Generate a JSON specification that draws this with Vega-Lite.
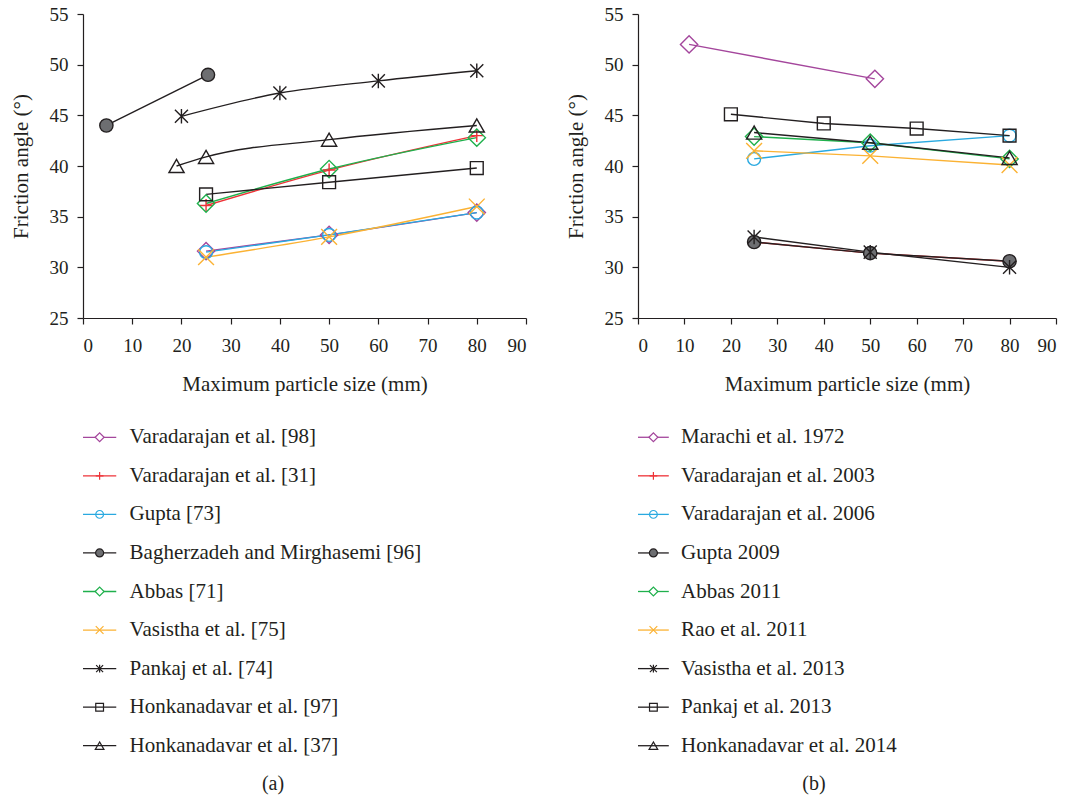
{
  "$schema": "https://vega.github.io/schema/vega-lite/v6.json",
  "background": "white",
  "padding": {"left": 10, "top": 5, "right": 5, "bottom": 5},
  "config": {
    "font": "Liberation Serif",
    "view": {"stroke": null},
    "axis": {
      "domainColor": "#231f20", "tickColor": "#231f20", "labelColor": "#231f20", "titleColor": "#231f20",
      "labelFont": "Liberation Serif", "titleFont": "Liberation Serif", "labelFontSize": 19, "titleFontSize": 21,
      "titleFontWeight": "normal", "grid": false, "tickSize": 6, "domainWidth": 1.2, "tickWidth": 1.2
    },
    "title": {"font": "Liberation Serif", "fontSize": 20, "fontWeight": "normal", "color": "#231f20"}
  },
  "datasets": {
    "a": [
      {"series": "Varadarajan et al. [98]", "x": 25, "y": 31.6},
      {"series": "Varadarajan et al. [98]", "x": 50, "y": 33.2},
      {"series": "Varadarajan et al. [98]", "x": 80, "y": 35.4},
      {"series": "Varadarajan et al. [31]", "x": 25, "y": 36.1},
      {"series": "Varadarajan et al. [31]", "x": 50, "y": 39.6},
      {"series": "Varadarajan et al. [31]", "x": 80, "y": 43.0},
      {"series": "Gupta [73]", "x": 25, "y": 31.5},
      {"series": "Gupta [73]", "x": 50, "y": 33.2},
      {"series": "Gupta [73]", "x": 80, "y": 35.4},
      {"series": "Bagherzadeh and Mirghasemi [96]", "x": 4.75, "y": 44.0},
      {"series": "Bagherzadeh and Mirghasemi [96]", "x": 25.4, "y": 49.0},
      {"series": "Abbas [71]", "x": 25, "y": 36.3},
      {"series": "Abbas [71]", "x": 50, "y": 39.7},
      {"series": "Abbas [71]", "x": 80, "y": 42.8},
      {"series": "Vasistha et al. [75]", "x": 25, "y": 31.0},
      {"series": "Vasistha et al. [75]", "x": 50, "y": 33.0},
      {"series": "Vasistha et al. [75]", "x": 80, "y": 36.0},
      {"series": "Pankaj et al. [74]", "x": 20, "y": 44.9},
      {"series": "Pankaj et al. [74]", "x": 40, "y": 47.2},
      {"series": "Pankaj et al. [74]", "x": 60, "y": 48.4},
      {"series": "Pankaj et al. [74]", "x": 80, "y": 49.4},
      {"series": "Honkanadavar et al. [97]", "x": 25, "y": 37.2},
      {"series": "Honkanadavar et al. [97]", "x": 50, "y": 38.4},
      {"series": "Honkanadavar et al. [97]", "x": 80, "y": 39.8},
      {"series": "Honkanadavar et al. [37]", "x": 19, "y": 40.0},
      {"series": "Honkanadavar et al. [37]", "x": 25, "y": 40.9},
      {"series": "Honkanadavar et al. [37]", "x": 50, "y": 42.6},
      {"series": "Honkanadavar et al. [37]", "x": 80, "y": 44.0}
    ],
    "b": [
      {"series": "Marachi et al. 1972", "x": 11, "y": 52.0},
      {"series": "Marachi et al. 1972", "x": 51, "y": 48.6},
      {"series": "Varadarajan et al. 2003", "x": 25, "y": 32.5},
      {"series": "Varadarajan et al. 2003", "x": 50, "y": 31.4},
      {"series": "Varadarajan et al. 2003", "x": 80, "y": 30.6},
      {"series": "Varadarajan et al. 2006", "x": 25, "y": 40.7},
      {"series": "Varadarajan et al. 2006", "x": 50, "y": 42.0},
      {"series": "Varadarajan et al. 2006", "x": 80, "y": 43.0},
      {"series": "Gupta 2009", "x": 25, "y": 32.5},
      {"series": "Gupta 2009", "x": 50, "y": 31.4},
      {"series": "Gupta 2009", "x": 80, "y": 30.6},
      {"series": "Abbas 2011", "x": 25, "y": 42.9},
      {"series": "Abbas 2011", "x": 50, "y": 42.3},
      {"series": "Abbas 2011", "x": 80, "y": 40.7},
      {"series": "Rao et al. 2011", "x": 25, "y": 41.5},
      {"series": "Rao et al. 2011", "x": 50, "y": 41.0},
      {"series": "Rao et al. 2011", "x": 80, "y": 40.1},
      {"series": "Vasistha et al. 2013", "x": 25, "y": 33.0},
      {"series": "Vasistha et al. 2013", "x": 50, "y": 31.5},
      {"series": "Vasistha et al. 2013", "x": 80, "y": 30.0},
      {"series": "Pankaj et al. 2013", "x": 20, "y": 45.1},
      {"series": "Pankaj et al. 2013", "x": 40, "y": 44.2},
      {"series": "Pankaj et al. 2013", "x": 60, "y": 43.7},
      {"series": "Pankaj et al. 2013", "x": 80, "y": 43.0},
      {"series": "Honkanadavar et al. 2014", "x": 25, "y": 43.3},
      {"series": "Honkanadavar et al. 2014", "x": 50, "y": 42.3},
      {"series": "Honkanadavar et al. 2014", "x": 80, "y": 40.8}
    ],
    "legA": [
      {"order": 1, "series": "Varadarajan et al. [98]"},
      {"order": 2, "series": "Varadarajan et al. [31]"},
      {"order": 3, "series": "Gupta [73]"},
      {"order": 4, "series": "Bagherzadeh and Mirghasemi [96]"},
      {"order": 5, "series": "Abbas [71]"},
      {"order": 6, "series": "Vasistha et al. [75]"},
      {"order": 7, "series": "Pankaj et al. [74]"},
      {"order": 8, "series": "Honkanadavar et al. [97]"},
      {"order": 9, "series": "Honkanadavar et al. [37]"}
    ],
    "legB": [
      {"order": 1, "series": "Marachi et al. 1972"},
      {"order": 2, "series": "Varadarajan et al. 2003"},
      {"order": 3, "series": "Varadarajan et al. 2006"},
      {"order": 4, "series": "Gupta 2009"},
      {"order": 5, "series": "Abbas 2011"},
      {"order": 6, "series": "Rao et al. 2011"},
      {"order": 7, "series": "Vasistha et al. 2013"},
      {"order": 8, "series": "Pankaj et al. 2013"},
      {"order": 9, "series": "Honkanadavar et al. 2014"}
    ]
  },
  "columns": 2,
  "bounds": "flush",
  "spacing": {"column": 112, "row": 100},
  "resolve": {"scale": {"color": "independent", "shape": "independent", "fill": "independent", "size": "independent", "x": "independent", "y": "independent"}},
  "concat": [
    {
      "width": 443, "height": 304,
      "data": {"name": "a"},
      "encoding": {
        "x": {"field": "x", "type": "quantitative", "scale": {"domain": [0, 90]},
              "axis": {"values": [0, 10, 20, 30, 40, 50, 60, 70, 80, 90], "title": "Maximum particle size (mm)", "labelPadding": 12, "titlePadding": 18}},
        "y": {"field": "y", "type": "quantitative", "scale": {"domain": [25, 55]},
              "axis": {"values": [25, 30, 35, 40, 45, 50, 55], "title": "Friction angle (°)", "labelPadding": 9, "titlePadding": 18}},
        "color": {"field": "series", "type": "nominal", "legend": null,
                  "scale": {"domain": ["Varadarajan et al. [98]", "Varadarajan et al. [31]", "Gupta [73]", "Bagherzadeh and Mirghasemi [96]", "Abbas [71]", "Vasistha et al. [75]", "Pankaj et al. [74]", "Honkanadavar et al. [97]", "Honkanadavar et al. [37]"],
                            "range": ["#a4469c", "#ee3338", "#29a9e0", "#231f20", "#1fb04c", "#fbb233", "#231f20", "#231f20", "#231f20"]}}
      },
      "layer": [
        {"mark": {"type": "line", "strokeWidth": 1.4, "interpolate": "monotone"}},
        {"mark": {"type": "point", "strokeWidth": 1.4, "opacity": 1, "filled": false},
         "encoding": {
           "shape": {"field": "series", "type": "nominal", "legend": null,
                     "scale": {"domain": ["Varadarajan et al. [98]", "Varadarajan et al. [31]", "Gupta [73]", "Bagherzadeh and Mirghasemi [96]", "Abbas [71]", "Vasistha et al. [75]", "Pankaj et al. [74]", "Honkanadavar et al. [97]", "Honkanadavar et al. [37]"],
                               "range": ["diamond", "M-1,0H1M0,-1V1", "circle", "circle", "diamond", "M-1,-1L1,1M1,-1L-1,1", "M-0.9,-0.9L0.9,0.9M0.9,-0.9L-0.9,0.9M0,-1V1", "square", "triangle-up"]}},
           "size": {"field": "series", "type": "nominal", "legend": null,
                    "scale": {"type": "ordinal", "domain": ["Varadarajan et al. [98]", "Varadarajan et al. [31]", "Gupta [73]", "Bagherzadeh and Mirghasemi [96]", "Abbas [71]", "Vasistha et al. [75]", "Pankaj et al. [74]", "Honkanadavar et al. [97]", "Honkanadavar et al. [37]"],
                              "range": [300, 170, 165, 175, 300, 250, 210, 165, 230]}},
           "fill": {"field": "series", "type": "nominal", "legend": null,
                    "scale": {"domain": ["Varadarajan et al. [98]", "Varadarajan et al. [31]", "Gupta [73]", "Bagherzadeh and Mirghasemi [96]", "Abbas [71]", "Vasistha et al. [75]", "Pankaj et al. [74]", "Honkanadavar et al. [97]", "Honkanadavar et al. [37]"],
                              "range": ["transparent", "transparent", "transparent", "#6d6e71", "transparent", "transparent", "transparent", "transparent", "transparent"]}}
         }}
      ]
    },
    {
      "width": 418, "height": 304,
      "data": {"name": "b"},
      "encoding": {
        "x": {"field": "x", "type": "quantitative", "scale": {"domain": [0, 90]},
              "axis": {"values": [0, 10, 20, 30, 40, 50, 60, 70, 80, 90], "title": "Maximum particle size (mm)", "labelPadding": 12, "titlePadding": 18}},
        "y": {"field": "y", "type": "quantitative", "scale": {"domain": [25, 55]},
              "axis": {"values": [25, 30, 35, 40, 45, 50, 55], "title": "Friction angle (°)", "labelPadding": 9, "titlePadding": 18}},
        "color": {"field": "series", "type": "nominal", "legend": null,
                  "scale": {"domain": ["Marachi et al. 1972", "Varadarajan et al. 2003", "Varadarajan et al. 2006", "Gupta 2009", "Abbas 2011", "Rao et al. 2011", "Vasistha et al. 2013", "Pankaj et al. 2013", "Honkanadavar et al. 2014"],
                            "range": ["#a4469c", "#ee3338", "#29a9e0", "#231f20", "#1fb04c", "#fbb233", "#231f20", "#231f20", "#231f20"]}}
      },
      "layer": [
        {"mark": {"type": "line", "strokeWidth": 1.4}},
        {"mark": {"type": "point", "strokeWidth": 1.4, "opacity": 1, "filled": false},
         "encoding": {
           "shape": {"field": "series", "type": "nominal", "legend": null,
                     "scale": {"domain": ["Marachi et al. 1972", "Varadarajan et al. 2003", "Varadarajan et al. 2006", "Gupta 2009", "Abbas 2011", "Rao et al. 2011", "Vasistha et al. 2013", "Pankaj et al. 2013", "Honkanadavar et al. 2014"],
                               "range": ["diamond", "M-1,0H1M0,-1V1", "circle", "circle", "diamond", "M-1,-1L1,1M1,-1L-1,1", "M-0.9,-0.9L0.9,0.9M0.9,-0.9L-0.9,0.9M0,-1V1", "square", "triangle-up"]}},
           "size": {"field": "series", "type": "nominal", "legend": null,
                    "scale": {"type": "ordinal", "domain": ["Marachi et al. 1972", "Varadarajan et al. 2003", "Varadarajan et al. 2006", "Gupta 2009", "Abbas 2011", "Rao et al. 2011", "Vasistha et al. 2013", "Pankaj et al. 2013", "Honkanadavar et al. 2014"],
                              "range": [300, 170, 165, 175, 300, 250, 210, 165, 230]}},
           "fill": {"field": "series", "type": "nominal", "legend": null,
                    "scale": {"domain": ["Marachi et al. 1972", "Varadarajan et al. 2003", "Varadarajan et al. 2006", "Gupta 2009", "Abbas 2011", "Rao et al. 2011", "Vasistha et al. 2013", "Pankaj et al. 2013", "Honkanadavar et al. 2014"],
                              "range": ["transparent", "transparent", "transparent", "#6d6e71", "transparent", "transparent", "transparent", "transparent", "transparent"]}}
         }}
      ]
    },
    {
      "width": 380, "height": 347,
      "data": {"name": "legA"},
      "title": {"text": "(a)", "orient": "bottom", "anchor": "middle", "offset": 9, "font": "Liberation Serif"},
      "encoding": {
        "y": {"field": "order", "type": "ordinal", "scale": {"type": "point", "padding": 0.5}, "axis": null},
        "color": {"field": "series", "type": "nominal", "legend": null,
                  "scale": {"domain": ["Varadarajan et al. [98]", "Varadarajan et al. [31]", "Gupta [73]", "Bagherzadeh and Mirghasemi [96]", "Abbas [71]", "Vasistha et al. [75]", "Pankaj et al. [74]", "Honkanadavar et al. [97]", "Honkanadavar et al. [37]"],
                            "range": ["#a4469c", "#ee3338", "#29a9e0", "#231f20", "#1fb04c", "#fbb233", "#231f20", "#231f20", "#231f20"]}}
      },
      "layer": [
        {"mark": {"type": "rule", "strokeWidth": 1.3},
         "encoding": {"x": {"datum": 0, "type": "quantitative", "scale": {"domain": [0, 380]}, "axis": null}, "x2": {"datum": 35}}},
        {"mark": {"type": "point", "strokeWidth": 1.2, "opacity": 1, "filled": false},
         "encoding": {
           "x": {"datum": 17.5, "type": "quantitative"},
           "shape": {"field": "series", "type": "nominal", "legend": null,
                     "scale": {"domain": ["Varadarajan et al. [98]", "Varadarajan et al. [31]", "Gupta [73]", "Bagherzadeh and Mirghasemi [96]", "Abbas [71]", "Vasistha et al. [75]", "Pankaj et al. [74]", "Honkanadavar et al. [97]", "Honkanadavar et al. [37]"],
                               "range": ["diamond", "M-1,0H1M0,-1V1", "circle", "circle", "diamond", "M-1,-1L1,1M1,-1L-1,1", "M-0.9,-0.9L0.9,0.9M0.9,-0.9L-0.9,0.9M0,-1V1", "square", "triangle-up"]}},
           "size": {"field": "series", "type": "nominal", "legend": null,
                    "scale": {"type": "ordinal", "domain": ["Varadarajan et al. [98]", "Varadarajan et al. [31]", "Gupta [73]", "Bagherzadeh and Mirghasemi [96]", "Abbas [71]", "Vasistha et al. [75]", "Pankaj et al. [74]", "Honkanadavar et al. [97]", "Honkanadavar et al. [37]"],
                              "range": [80, 60, 60, 64, 80, 60, 60, 60, 75]}},
           "fill": {"field": "series", "type": "nominal", "legend": null,
                    "scale": {"domain": ["Varadarajan et al. [98]", "Varadarajan et al. [31]", "Gupta [73]", "Bagherzadeh and Mirghasemi [96]", "Abbas [71]", "Vasistha et al. [75]", "Pankaj et al. [74]", "Honkanadavar et al. [97]", "Honkanadavar et al. [37]"],
                              "range": ["white", "transparent", "transparent", "#6d6e71", "white", "transparent", "transparent", "transparent", "transparent"]}}
         }},
        {"mark": {"type": "text", "align": "left", "baseline": "middle", "fontSize": 21, "font": "Liberation Serif", "color": "#231f20"},
         "encoding": {"x": {"datum": 49, "type": "quantitative"}, "text": {"field": "series"}, "color": {"value": "#231f20"}}}
      ]
    },
    {
      "width": 352, "height": 347,
      "data": {"name": "legB"},
      "title": {"text": "(b)", "orient": "bottom", "anchor": "middle", "offset": 9, "font": "Liberation Serif"},
      "encoding": {
        "y": {"field": "order", "type": "ordinal", "scale": {"type": "point", "padding": 0.5}, "axis": null},
        "color": {"field": "series", "type": "nominal", "legend": null,
                  "scale": {"domain": ["Marachi et al. 1972", "Varadarajan et al. 2003", "Varadarajan et al. 2006", "Gupta 2009", "Abbas 2011", "Rao et al. 2011", "Vasistha et al. 2013", "Pankaj et al. 2013", "Honkanadavar et al. 2014"],
                            "range": ["#a4469c", "#ee3338", "#29a9e0", "#231f20", "#1fb04c", "#fbb233", "#231f20", "#231f20", "#231f20"]}}
      },
      "layer": [
        {"mark": {"type": "rule", "strokeWidth": 1.3},
         "encoding": {"x": {"datum": 0, "type": "quantitative", "scale": {"domain": [0, 352]}, "axis": null}, "x2": {"datum": 35}}},
        {"mark": {"type": "point", "strokeWidth": 1.2, "opacity": 1, "filled": false},
         "encoding": {
           "x": {"datum": 17.5, "type": "quantitative"},
           "shape": {"field": "series", "type": "nominal", "legend": null,
                     "scale": {"domain": ["Marachi et al. 1972", "Varadarajan et al. 2003", "Varadarajan et al. 2006", "Gupta 2009", "Abbas 2011", "Rao et al. 2011", "Vasistha et al. 2013", "Pankaj et al. 2013", "Honkanadavar et al. 2014"],
                               "range": ["diamond", "M-1,0H1M0,-1V1", "circle", "circle", "diamond", "M-1,-1L1,1M1,-1L-1,1", "M-0.9,-0.9L0.9,0.9M0.9,-0.9L-0.9,0.9M0,-1V1", "square", "triangle-up"]}},
           "size": {"field": "series", "type": "nominal", "legend": null,
                    "scale": {"type": "ordinal", "domain": ["Marachi et al. 1972", "Varadarajan et al. 2003", "Varadarajan et al. 2006", "Gupta 2009", "Abbas 2011", "Rao et al. 2011", "Vasistha et al. 2013", "Pankaj et al. 2013", "Honkanadavar et al. 2014"],
                              "range": [80, 60, 60, 64, 80, 60, 60, 60, 75]}},
           "fill": {"field": "series", "type": "nominal", "legend": null,
                    "scale": {"domain": ["Marachi et al. 1972", "Varadarajan et al. 2003", "Varadarajan et al. 2006", "Gupta 2009", "Abbas 2011", "Rao et al. 2011", "Vasistha et al. 2013", "Pankaj et al. 2013", "Honkanadavar et al. 2014"],
                              "range": ["white", "transparent", "transparent", "#6d6e71", "white", "transparent", "transparent", "transparent", "transparent"]}}
         }},
        {"mark": {"type": "text", "align": "left", "baseline": "middle", "fontSize": 21, "font": "Liberation Serif", "color": "#231f20"},
         "encoding": {"x": {"datum": 49, "type": "quantitative"}, "text": {"field": "series"}, "color": {"value": "#231f20"}}}
      ]
    }
  ]
}
